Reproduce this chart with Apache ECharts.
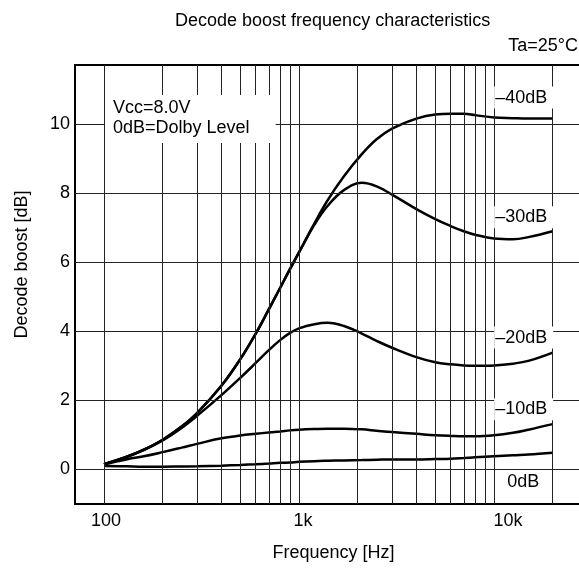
<!DOCTYPE html>
<html><head><meta charset="utf-8">
<script src="https://cdn.jsdelivr.net/npm/echarts@6/dist/echarts.min.js"></script>
<style>html,body{margin:0;padding:0;background:#fff}#c{width:579px;height:569px}</style>
</head><body><div id="c"></div>
<script>
// ---- data ----
const freqs   = [100,130,160,200,250,300,400,500,600,700,800,900,1000,1200,1400,1700,2100,2500,3000,4000,5000,6000,7000,8000,10000,12500,15000,20000];
const boost40 = [0.15,0.36,0.57,0.86,1.24,1.63,2.42,3.19,3.93,4.63,5.25,5.8,6.28,7.12,7.78,8.48,9.12,9.55,9.86,10.15,10.27,10.29,10.29,10.25,10.18,10.16,10.15,10.15];
const boost30 = [0.15,0.36,0.57,0.86,1.24,1.63,2.42,3.19,3.93,4.63,5.25,5.8,6.28,7.08,7.62,8.08,8.29,8.19,7.95,7.53,7.24,7.04,6.89,6.79,6.68,6.66,6.72,6.89];
const boost20 = [0.15,0.36,0.56,0.84,1.2,1.55,2.15,2.65,3.08,3.45,3.74,3.95,4.08,4.2,4.24,4.15,3.93,3.72,3.52,3.25,3.1,3.04,3.01,3.0,3.01,3.06,3.14,3.38];
const boost10 = [0.15,0.29,0.38,0.5,0.63,0.74,0.9,0.98,1.03,1.07,1.1,1.13,1.15,1.17,1.18,1.18,1.16,1.12,1.08,1.03,0.99,0.97,0.96,0.96,0.99,1.06,1.15,1.31];
const boost0  = [0.1,0.09,0.08,0.08,0.085,0.09,0.11,0.13,0.15,0.17,0.19,0.2,0.22,0.24,0.25,0.26,0.27,0.28,0.29,0.29,0.3,0.31,0.33,0.35,0.38,0.41,0.43,0.48];
const seriesNames = ['–40dB','–30dB','–20dB','–10dB','0dB'];
const gridFreqs = [100,200,300,400,500,600,700,800,900,1000,2000,3000,4000,5000,6000,7000,8000,9000,10000,20000];
const gridBoost = [0,2,4,6,8,10];
const xTickLabels = {100:'100', 1000:'1k', 10000:'10k'};

// ---- chart ----
const FONT = '"Liberation Sans", Arial, sans-serif';
const allSeries = [boost40, boost30, boost20, boost10, boost0];
const labelStyle = [
  {offset:[1,-21], padding:[2,6,2,1]},
  {offset:[1,-14], padding:[2,6,2,1]},
  {offset:[1,-15], padding:[2,6,2,1]},
  {offset:[1,-15], padding:[2,6,2,1]},
  {offset:[-12,29], padding:[2,1,2,3]}
];
const chart = echarts.init(document.getElementById('c'), null, {renderer:'canvas'});
const txt = {fontFamily: FONT, fontSize: 18, color: '#000', fontWeight: 'normal'};

const series = allSeries.map((vals, i) => {
  const last = vals.length - 1;
  return {
    name: seriesNames[i], type: 'line', z: 3, smooth: 0.4, showSymbol: false, symbol: 'none',
    lineStyle: {color: '#000', width: 2.5}, animation: false,
    data: freqs.map((f, k) => [f, vals[k]]),
    markPoint: {
      symbol: 'circle', symbolSize: 1, itemStyle: {color: 'rgba(0,0,0,0)'}, silent: true, animation: false,
      data: [{coord: [freqs[last], vals[last]], value: seriesNames[i]}],
      label: Object.assign({show: true, position: 'left', distance: 0, formatter: seriesNames[i],
        backgroundColor: '#fff', offset: labelStyle[i].offset, padding: labelStyle[i].padding}, txt)
    }
  };
});
series.unshift({
  name: 'grid', type: 'line', z: 1, data: [], animation: false,
  markLine: {
    silent: true, animation: false, symbol: ['none','none'], label: {show: false},
    lineStyle: {color: '#222', width: 1, type: 'solid'},
    data: gridFreqs.map(f => ({xAxis: f})).concat(gridBoost.map(v => ({yAxis: v})))
  }
});

chart.setOption({
  animation: false,
  backgroundColor: '#fff',
  title: [
    {text: 'Decode boost frequency characteristics', left: 175, top: 12, padding: 0, textStyle: txt},
    {text: 'Ta=25°C', right: 1, top: 37, padding: 0, textStyle: txt},
    {text: 'Vcc=8.0V\n0dB=Dolby Level', left: 105, top: 95, padding: [3,26,5,8], backgroundColor: '#fff',
     textStyle: Object.assign({lineHeight: 20}, txt)}
  ],
  grid: {left: 75, top: 65, width: 517, height: 439, outerBoundsMode: 'none', show: true, borderColor: '#000', borderWidth: 2, containLabel: false},
  xAxis: {
    type: 'log', logBase: 10, min: 71, max: 31810,
    axisLine: {show: false}, axisTick: {show: false}, splitLine: {show: false},
    axisLabel: Object.assign({margin: 8, showMinLabel: true, showMaxLabel: true,
      formatter: v => { const r = Math.round(v); const t = xTickLabels[r]; if (!t) return '';
        return r === 100 ? '{a|' + t + '}' : (r === 1000 ? '{b|' + t + '}' : '{c|' + t + '}'); },
      rich: {a: Object.assign({padding:[0,0,0,4]}, txt), b: Object.assign({padding:[0,0,0,8]}, txt), c: Object.assign({padding:[0,0,0,28]}, txt)}
    }, txt),
    name: 'Frequency [Hz]', nameLocation: 'middle', nameGap: 40, nameTextStyle: txt
  },
  yAxis: {
    type: 'value', min: -1, max: 11.7, interval: 1,
    axisLine: {show: false}, axisTick: {show: false}, splitLine: {show: false},
    axisLabel: Object.assign({margin: 5,
      formatter: v => { const r = Math.round(v); return (Math.abs(v - r) < 1e-6 && gridBoost.indexOf(r) >= 0) ? String(r) : ''; }
    }, txt),
    name: 'Decode boost [dB]', nameLocation: 'middle', nameGap: 44,
    nameTextStyle: Object.assign({padding: [0,0,0,40]}, txt)
  },
  series: series
});
</script></body></html>
